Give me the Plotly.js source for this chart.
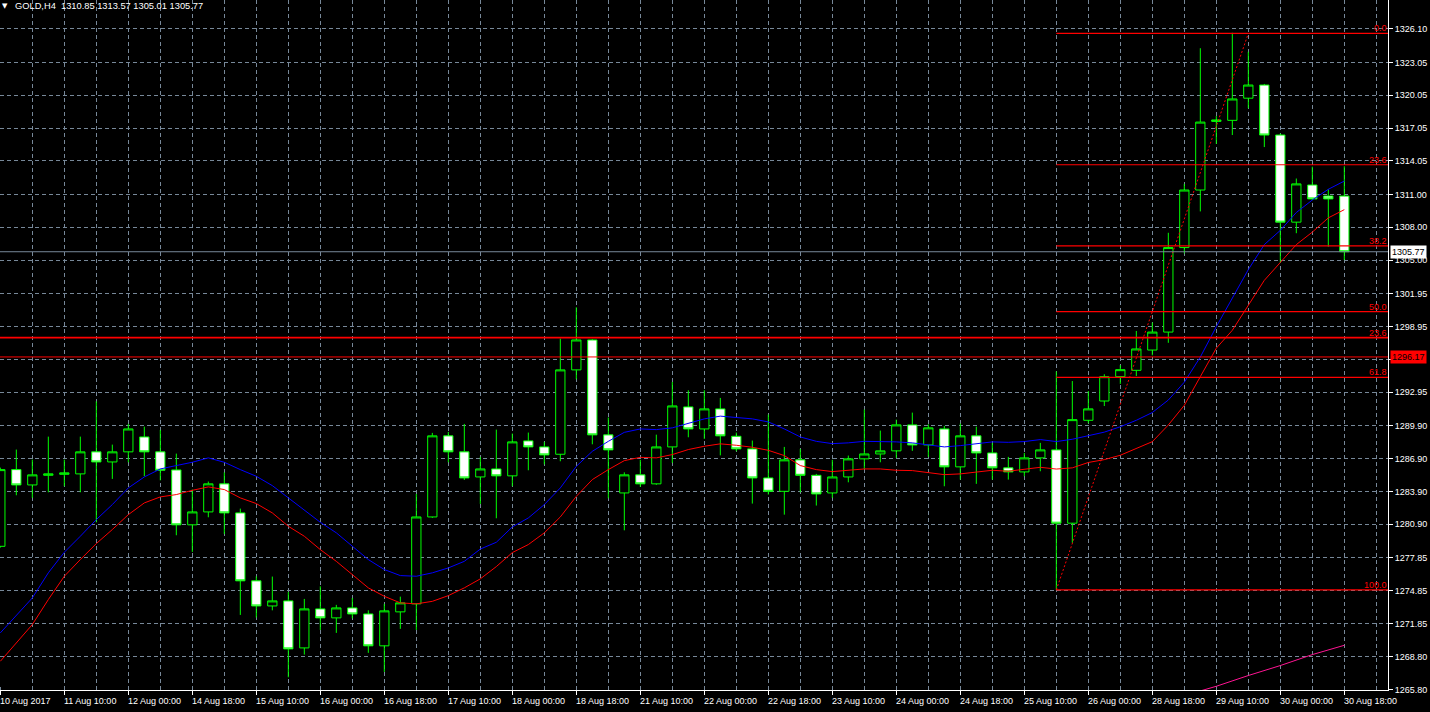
<!DOCTYPE html>
<html><head><meta charset="utf-8">
<script src="https://cdn.plot.ly/plotly-3.0.1.min.js"></script>
<style>html,body{margin:0;padding:0;background:#000;overflow:hidden}#chart{width:1430px;height:712px}</style>
</head><body><div id="chart"></div>
<script>
// ---- data ----
const symbolTitle = 'GOLD,H4';
const headerOHLC = ['1310.85', '1313.57', '1305.01', '1305.77'];

const open = [
1278.89,1285.89,1284.49,1285.37,1285.46,1285.50,1287.51,1286.59,1287.51,1288.87,
1287.51,1285.86,1280.85,1282.03,1284.59,1281.94,1275.74,1273.45,1273.91,1269.62,
1273.18,1272.36,1273.27,1272.72,1269.81,1272.91,1273.64,1281.57,1288.97,1287.51,
1285.22,1285.95,1285.32,1288.51,1287.96,1287.29,1294.99,1297.72,1289.06,1283.76,
1285.41,1284.59,1287.96,1291.61,1289.60,1291.43,1288.93,1287.78,1285.13,1283.91,
1286.78,1285.37,1283.76,1285.22,1286.87,1287.32,1287.60,1289.97,1288.14,1289.60,
1286.14,1288.97,1287.41,1286.05,1285.68,1286.96,1287.69,1281.00,1290.39,1292.15,
1294.37,1294.95,1296.80,1298.44,1306.15,1311.40,1317.66,1317.76,1319.78,1320.98,
1316.42,1308.47,1311.86,1310.85,1310.85];
const high = [
1286.07,1287.72,1286.80,1288.90,1286.80,1288.90,1292.12,1288.17,1290.06,1289.81,
1289.51,1287.35,1284.07,1284.80,1285.64,1282.33,1276.15,1276.13,1274.73,1274.09,
1275.24,1273.55,1274.18,1273.05,1273.64,1274.30,1283.67,1289.24,1289.33,1290.06,
1287.05,1289.54,1289.18,1289.27,1288.42,1297.84,1300.70,1297.80,1290.64,1285.64,
1286.78,1289.08,1293.89,1293.13,1293.13,1292.43,1289.27,1288.54,1290.91,1287.96,
1287.78,1285.50,1286.78,1287.17,1291.37,1289.45,1290.45,1291.09,1290.02,1289.88,
1290.09,1289.81,1288.33,1287.05,1287.41,1288.33,1294.85,1293.97,1293.06,1294.59,
1295.43,1298.54,1299.31,1307.50,1311.96,1324.34,1318.15,1325.75,1324.02,1321.08,
1316.55,1312.45,1313.53,1311.47,1313.57];
const low = [
1278.77,1283.55,1283.31,1283.82,1284.37,1283.82,1281.08,1285.04,1286.56,1285.28,
1284.91,1279.90,1278.38,1281.54,1280.02,1272.63,1272.39,1273.05,1266.94,1269.01,
1271.26,1270.99,1272.32,1269.17,1267.43,1271.36,1271.26,1281.48,1286.56,1284.95,
1282.76,1281.45,1284.37,1285.83,1286.37,1286.65,1294.13,1288.20,1283.27,1280.35,
1284.31,1284.50,1286.50,1288.84,1288.69,1287.19,1287.56,1282.79,1283.61,1281.78,
1283.82,1282.61,1283.31,1284.73,1285.95,1286.56,1286.96,1287.60,1287.05,1284.37,
1284.98,1284.59,1284.98,1284.98,1285.28,1285.74,1274.92,1279.21,1290.12,1291.69,
1293.71,1294.43,1296.32,1297.46,1305.61,1309.45,1315.61,1316.42,1318.86,1315.32,
1304.79,1307.46,1310.48,1306.23,1305.01];
const close = [
1285.89,1284.49,1285.41,1285.50,1285.59,1287.51,1286.59,1287.51,1289.60,1287.51,
1285.83,1280.85,1282.03,1284.59,1281.94,1275.74,1273.45,1273.91,1269.53,1273.18,
1272.36,1273.27,1272.72,1269.81,1273.00,1273.73,1281.57,1288.97,1287.51,1285.13,
1285.95,1285.32,1288.42,1287.96,1287.23,1294.99,1297.72,1289.06,1287.69,1285.41,
1284.59,1287.96,1291.70,1289.60,1291.43,1288.97,1287.78,1285.13,1283.91,1286.78,
1285.37,1283.67,1285.22,1286.87,1287.32,1287.60,1289.97,1288.14,1289.70,1286.14,
1288.97,1287.41,1286.05,1285.68,1286.96,1287.69,1281.00,1290.45,1291.43,1294.37,
1295.01,1296.90,1298.44,1306.15,1311.40,1317.60,1317.79,1319.71,1320.98,1316.42,
1308.47,1311.96,1310.59,1310.59,1305.77];

const maBlue = [
1270.99,1272.57,1274.18,1276.47,1278.35,1279.81,1281.33,1282.70,1284.22,1285.22,
1285.95,1286.26,1286.56,1286.96,1286.56,1285.89,1285.28,1284.43,1283.31,1282.24,
1281.08,1280.12,1278.89,1277.68,1276.77,1276.22,1276.16,1276.47,1276.92,1277.52,
1278.64,1279.26,1280.66,1281.48,1282.70,1284.22,1286.19,1287.56,1288.47,1289.29,
1289.60,1289.54,1289.70,1290.09,1290.52,1290.77,1290.66,1290.52,1290.24,1289.60,
1288.87,1288.47,1288.26,1288.33,1288.47,1288.45,1288.42,1288.33,1288.14,1287.96,
1288.08,1288.26,1288.42,1288.38,1288.45,1288.63,1288.45,1288.66,1288.98,1289.31,
1289.80,1290.39,1291.10,1292.24,1293.87,1296.16,1298.93,1301.53,1304.14,1306.42,
1307.72,1309.35,1310.49,1311.47,1312.22];
const maRed = [
1268.40,1270.08,1271.75,1274.03,1276.16,1277.68,1279.14,1280.42,1281.78,1282.85,
1283.40,1283.61,1284.00,1284.31,1284.07,1283.31,1282.79,1281.94,1280.72,1279.81,
1278.59,1277.52,1276.31,1275.10,1274.33,1273.73,1273.64,1273.87,1274.39,1275.10,
1275.92,1277.04,1278.32,1279.05,1280.12,1281.57,1283.45,1284.98,1285.89,1286.71,
1287.01,1286.96,1287.26,1287.72,1288.02,1288.24,1288.11,1287.93,1287.65,1287.17,
1286.26,1285.89,1285.71,1285.83,1285.95,1285.95,1285.83,1285.80,1285.59,1285.43,
1285.50,1285.68,1285.83,1285.74,1285.89,1286.10,1285.94,1286.05,1286.54,1286.80,
1287.20,1287.84,1288.44,1289.96,1291.76,1294.37,1296.97,1298.60,1300.88,1303.16,
1304.79,1306.42,1307.56,1308.86,1309.61];

const pinkIndex = [74, 75, 76, 78, 80, 82, 84];
const pinkValues = [1265.27, 1265.72, 1266.12, 1267.10, 1268.01, 1269.01, 1269.86];

const dateTickIndex = [0,4,8,12,16,20,24,28,32,36,40,44,48,52,56,60,64,68,72,76,80,84];
const dateTickLabels = ['10 Aug 2017','11 Aug 10:00','12 Aug 00:00','14 Aug 18:00','15 Aug 10:00',
'16 Aug 00:00','16 Aug 18:00','17 Aug 10:00','18 Aug 00:00','18 Aug 18:00','21 Aug 10:00',
'22 Aug 00:00','22 Aug 18:00','23 Aug 10:00','24 Aug 00:00','24 Aug 18:00','25 Aug 10:00',
'26 Aug 00:00','28 Aug 18:00','29 Aug 10:00','30 Aug 00:00','30 Aug 18:00'];

// price grid levels; the 1295.95 label is hidden under the 1296.17 price box in the reference
const priceTickVals = [1326.10,1323.05,1320.05,1317.05,1314.05,1311.00,1308.00,
1305.00,1301.95,1298.95,1295.95,1292.95,1289.90,1286.90,1283.90,1280.90,
1277.85,1274.85,1271.85,1268.80,1265.80];
const priceTickLabels = ['1326.10','1323.05','1320.05','1317.05','1314.05','1311.00','1308.00',
'1305.00','1301.95','1298.95','','1292.95','1289.90','1286.90','1283.90','1280.90',
'1277.85','1274.85','1271.85','1268.80','1265.80'];

const fibAnchorIndex = [66, 78];
const fibAnchorPrice = [1274.92, 1325.69];
const fibLevels = [0.0, 23.6, 38.2, 50.0, 61.8, 100.0];

const lineLevels = [1297.93, 1296.17];
const lineLabels = ['23.6', ''];
const bidPrice = 1305.77;
const alertPrice = 1296.17;

// ---- build ----
const idx = open.map((_, i) => i);
const grid = '#778899';
const dash = '4px,3px';
const F = 'Liberation Sans, Arial, sans-serif';

const traces = [
  {type:'candlestick', x:idx, open:open, high:high, low:low, close:close,
   increasing:{line:{color:'#00ff00', width:1}, fillcolor:'#000000'},
   decreasing:{line:{color:'#00ff00', width:1}, fillcolor:'#ffffff'},
   whiskerwidth:0, hoverinfo:'skip'},
  {type:'scatter', mode:'lines', x:idx, y:maBlue, line:{color:'#0000ff', width:1}, hoverinfo:'skip'},
  {type:'scatter', mode:'lines', x:idx, y:maRed, line:{color:'#ff0000', width:1}, hoverinfo:'skip'},
  {type:'scatter', mode:'lines', x:pinkIndex, y:pinkValues, line:{color:'#ff1493', width:1}, hoverinfo:'skip'},
  {type:'scatter', mode:'lines', x:fibAnchorIndex, y:fibAnchorPrice, line:{color:'#ff0000', width:1, dash:'2px,2px'}, hoverinfo:'skip'}
];

const fibHigh = fibAnchorPrice[1], fibLow = fibAnchorPrice[0];
const shapes = [];
const annotations = [];
fibLevels.forEach(l => {
  const p = fibHigh - (fibHigh - fibLow) * l / 100;
  shapes.push({type:'line', xref:'x', yref:'y', x0:fibAnchorIndex[0], x1:95, y0:p, y1:p,
    line:{color:'#ff0000', width:1.2}, layer:'above'});
  annotations.push({xref:'paper', yref:'y', x:1, y:p, xanchor:'right', yanchor:'middle', yshift:5, xshift:0,
    text:l.toFixed(1), showarrow:false, font:{family:F, size:9, color:'#ff0000'}, borderpad:0});
});
lineLevels.forEach((p, i) => {
  shapes.push({type:'line', xref:'paper', yref:'y', x0:0, x1:1, y0:p, y1:p,
    line:{color:'#ff0000', width: i === 0 ? 1.6 : 1}, layer:'above'});
  if (lineLabels[i]) annotations.push({xref:'paper', yref:'y', x:1, y:p, xanchor:'right', yanchor:'middle', yshift:5,
    text:lineLabels[i], showarrow:false, font:{family:F, size:9, color:'#ff0000'}, borderpad:0});
});
shapes.push({type:'line', xref:'paper', yref:'y', x0:0, x1:1, y0:bidPrice, y1:bidPrice,
  line:{color:grid, width:1}, layer:'above'});

annotations.push({xref:'paper', yref:'y', x:1, y:bidPrice, xanchor:'left', yanchor:'middle', xshift:2,
  text:bidPrice.toFixed(2), showarrow:false, bgcolor:'#ffffff', font:{family:F, size:9, color:'#000'}, borderpad:1});
annotations.push({xref:'paper', yref:'y', x:1, y:alertPrice, xanchor:'left', yanchor:'middle', xshift:2,
  text:alertPrice.toFixed(2), showarrow:false, bgcolor:'#ff0000', font:{family:F, size:9, color:'#000'}, borderpad:1});

dateTickIndex.forEach((k, i) => {
  annotations.push({xref:'x', yref:'paper', x:k, y:0, xanchor:'left', yanchor:'middle', yshift:-11, xshift:-1,
    text:dateTickLabels[i], showarrow:false, font:{family:F, size:9, color:'#ffffff'}, borderpad:0});
});

annotations.push({xref:'paper', yref:'paper', x:0, y:1, xanchor:'left', yanchor:'top', xshift:1, yshift:-1,
  text:'▼', showarrow:false, font:{family:'DejaVu Sans', size:7, color:'#ffffff'}, borderpad:0});
annotations.push({xref:'paper', yref:'paper', x:0, y:1, xanchor:'left', yanchor:'top', xshift:14, yshift:0,
  text:symbolTitle + '\u00a0\u00a0' + headerOHLC.join(' '), showarrow:false,
  font:{family:F, size:9.3, color:'#ffffff'}, borderpad:0});

const layout = {
  width:1430, height:712,
  paper_bgcolor:'#000000', plot_bgcolor:'#000000',
  margin:{l:0, r:42, t:0, b:22},
  showlegend:false,
  boxgap:0.42, boxgroupgap:0,
  xaxis:{type:'linear', range:[-0.02, 86.73], rangeslider:{visible:false},
    tickmode:'array', tickvals:dateTickIndex, showticklabels:false,
    ticks:'outside', ticklen:4, tickcolor:'#ffffff', tickwidth:1,
    showline:true, linecolor:'#ffffff', linewidth:1,
    showgrid:true, gridcolor:grid, gridwidth:1, griddash:dash, zeroline:false,
    minor:{tick0:0, dtick:2, showgrid:true, gridcolor:grid, gridwidth:1, griddash:dash,
      ticks:'inside', ticklen:3, tickcolor:grid},
    fixedrange:true},
  yaxis:{side:'right', range:[1265.78, 1328.74],
    tickmode:'array', tickvals:priceTickVals, ticktext:priceTickLabels,
    ticks:'outside', ticklen:4, tickcolor:'#ffffff', tickwidth:1,
    tickfont:{family:F, size:9, color:'#ffffff'},
    showline:true, linecolor:'#ffffff', linewidth:1,
    showgrid:true, gridcolor:grid, gridwidth:1, griddash:dash, zeroline:false, fixedrange:true},
  shapes:shapes, annotations:annotations
};

Plotly.newPlot('chart', traces, layout, {staticPlot:true, displayModeBar:false});
</script></body></html>
